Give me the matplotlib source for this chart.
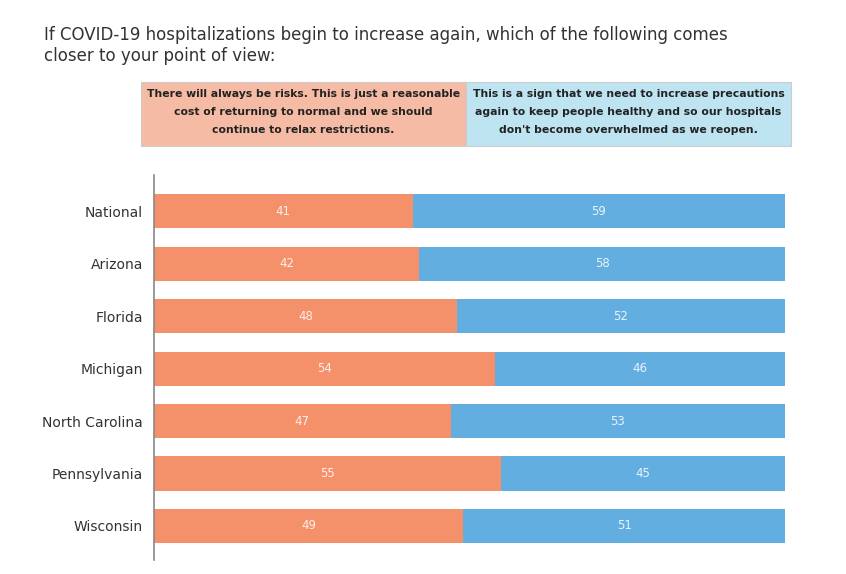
import matplotlib.pyplot as plt
import matplotlib.patches as mpatches

states = ["National", "Arizona", "Florida", "Michigan", "North Carolina", "Pennsylvania", "Wisconsin"]
relax = [41, 42, 48, 54, 47, 55, 49]
precaution = [59, 58, 52, 46, 53, 45, 51]

relax_label = ("There will always be risks. This is just a reasonable\n"
               "cost of returning to normal and we should\n"
               "continue to relax restrictions.")
precaution_label = ("This is a sign that we need to increase precautions\n"
                    "again to keep people healthy and so our hospitals\n"
                    "don't become overwhelmed as we reopen.")
title = ("If COVID-19 hospitalizations begin to increase again, which of the following comes\n"
         "closer to your point of view:")

orange = "#F4916B"
blue = "#63AEE1"

fig = plt.figure(figsize=(8.46, 5.74), dpi=100, facecolor="white")
W, H = 846, 574

fig.text(44 / W, 1 - 26 / H, title, fontsize=12, color="#333333", va="top", ha="left",
         linespacing=1.2)

# header boxes
for x0, x1, fc, txt in [(141, 466, "#F5BBA5", relax_label), (466, 791, "#BEE4F2", precaution_label)]:
    rect = mpatches.Rectangle((x0 / W, 1 - 146 / H), (x1 - x0) / W, 64 / H, transform=fig.transFigure,
                              facecolor=fc, edgecolor="#CCCCCC", lw=0.8)
    fig.patches.append(rect)
    fig.text((x0 + x1) / 2 / W, 1 - 112 / H, txt, ha="center", va="center", fontsize=7.8,
             fontweight="bold", color="#222222", linespacing=2.05)

ax = fig.add_axes([154 / W, 1 - 560 / H, (785 - 154) / W, (560 - 175) / H])
ypos = list(range(len(states)))
ax.barh(ypos, relax, height=0.65, color=orange)
ax.barh(ypos, precaution, left=relax, height=0.65, color=blue)
for y, a, b in zip(ypos, relax, precaution):
    ax.text(a / 2, y, str(a), ha="center", va="center", color="white", fontsize=8.5, alpha=0.85)
    ax.text(a + b / 2, y, str(b), ha="center", va="center", color="white", fontsize=8.5, alpha=0.85)

ax.set_xlim(0, 100)
ax.set_ylim(6.65, -0.69)
ax.set_yticks(ypos)
ax.set_yticklabels(states, fontsize=10, color="#333333", fontweight="medium")
ax.tick_params(axis="y", length=0, pad=8)
ax.set_xticks([])
for s in ["top", "right", "bottom"]:
    ax.spines[s].set_visible(False)
ax.spines["left"].set_color("#888888")
ax.spines["left"].set_linewidth(1.2)

fig.savefig("out.png", dpi=100)
